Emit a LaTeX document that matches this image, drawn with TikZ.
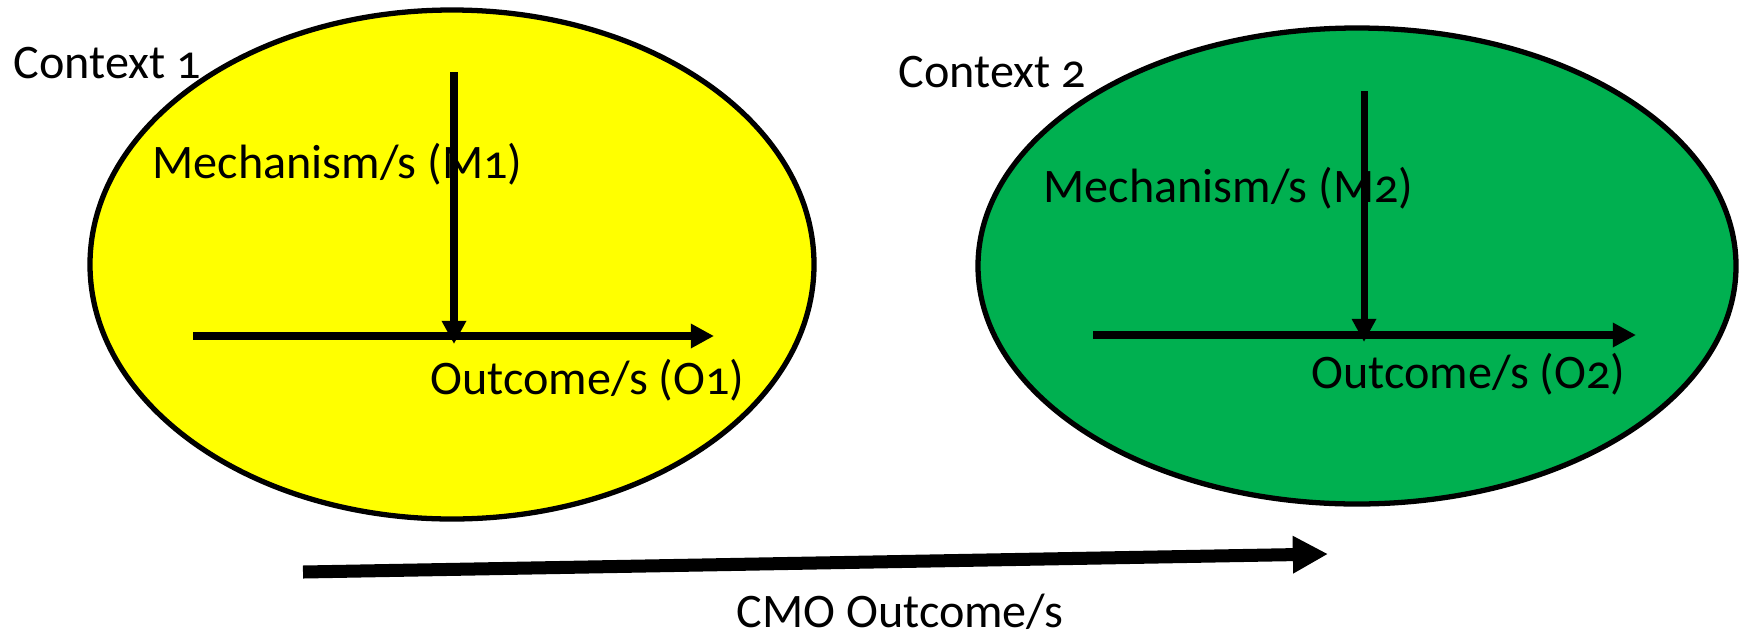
\documentclass[tikz,border=0pt]{standalone}
\usepackage{fontspec}
\setmainfont{Carlito}[Numbers=OldStyle]
\usetikzlibrary{arrows.meta}
\definecolor{ctxyellow}{HTML}{FFFF00}
\definecolor{ctxgreen}{HTML}{00B050}
\begin{document}
\begin{tikzpicture}[x=0.01cm,y=-0.01cm,
  ctxshape/.style={draw=black,line width=1.5pt},
  lbl/.style={anchor=base west,inner sep=0pt,font=\fontsize{13.7pt}{16pt}\selectfont},
  flow/.style={line width=2pt,-{Triangle[length=6.6pt,width=6.6pt]}},
  bigflow/.style={line width=3.7pt,-{Triangle[length=10pt,width=10pt]}}]
\useasboundingbox (0,0) rectangle (1743,636);

% the two context ellipses
\draw[ctxshape,fill=ctxyellow] (452,264.5) ellipse [x radius=362,y radius=254.5];
\coordinate (ctx1) at (452,264.5);
\draw[ctxshape,fill=ctxgreen] (1357,266) ellipse [x radius=379,y radius=238];
\coordinate (ctx2) at (1357,266);

% labels
\node[lbl] (c1) at (13,78) {Context 1};
\node[lbl] (m1) at (152,178) {Mechanism/s (M1)};
\node[lbl] (o1) at (430,394) {Outcome/s (O1)};
\node[lbl] (c2) at (898,87) {Context 2};
\node[lbl] (m2) at (1043,202) {Mechanism/s (M2)};
\node[lbl] (o2) at (1311,388) {Outcome/s (O2)};
\node[lbl] (cmo) at (736,627) {CMO Outcome/s};

% arrow end points
\coordinate (m1top) at (454,72);
\coordinate (m1tip) at (454,344);
\coordinate (o1start) at (193,336);
\coordinate (o1tip) at (714,336);
\coordinate (m2top) at (1364,91);
\coordinate (m2tip) at (1364,342);
\coordinate (o2start) at (1093,335);
\coordinate (o2tip) at (1636,335);
\coordinate (cmostart) at (303,572);
\coordinate (cmotip) at (1328,554);

% context 1 mechanism and outcome
\draw[flow] (o1start) -- (o1tip);
\draw[flow] (m1top) -- (m1tip);
% context 2 mechanism and outcome
\draw[flow] (o2start) -- (o2tip);
\draw[flow] (m2top) -- (m2tip);
% overall CMO outcome
\draw[bigflow] (cmostart) -- (cmotip);
\end{tikzpicture}
\end{document}
